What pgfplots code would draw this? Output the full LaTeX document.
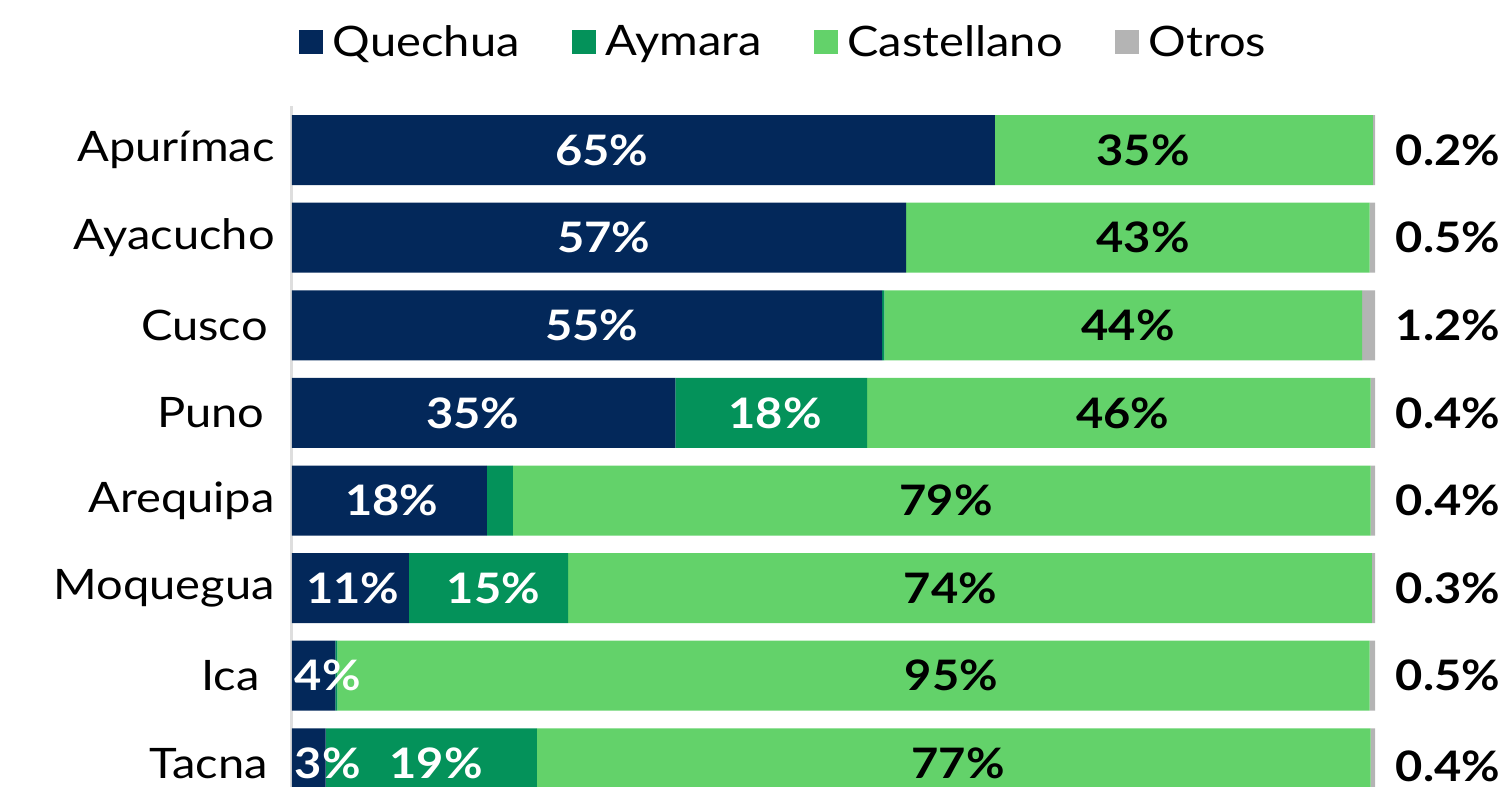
\documentclass[border=0pt]{standalone}
\usepackage{fontspec}
\setmainfont{Lato}[FakeStretch=1.12]
\usepackage{pgfplots}
\pgfplotsset{compat=1.18}
\definecolor{quech}{HTML}{03285A}
\definecolor{ayma}{HTML}{04925A}
\definecolor{cast}{HTML}{63D26A}
\definecolor{otros}{HTML}{B4B4B4}
\newcommand\fs{\fontsize{21bp}{25bp}\selectfont}
\pgfplotsset{sqleg/.style={legend image code/.code={\fill[#1] (0bp,-5.75bp) rectangle (11.5bp,5.75bp);}}}
\tikzset{wl/.style={font=\fs\bfseries, text=white, inner sep=0pt},
         bl/.style={font=\fs\bfseries, text=black, inner sep=0pt},
         ol/.style={font=\fs\bfseries, text=black, inner sep=0pt, anchor=east}}
% value labels, drawn once the bars are on the page
\newcommand\barlabels{%
\node[wl] at (axis cs:28.6,0) {65\%};
\node[bl] at (axis cs:78.6,0) {35\%};
\node[wl] at (axis cs:28.8,1) {57\%};
\node[bl] at (axis cs:78.6,1) {43\%};
\node[wl] at (axis cs:27.7,2) {55\%};
\node[bl] at (axis cs:77.2,2) {44\%};
\node[wl] at (axis cs:16.7,3) {35\%};
\node[wl] at (axis cs:44.6,3) {18\%};
\node[bl] at (axis cs:76.7,3) {46\%};
\node[wl] at (axis cs:9.2,4) {18\%};
\node[bl] at (axis cs:60.4,4) {79\%};
\node[wl] at (axis cs:5.6,5) {11\%};
\node[wl] at (axis cs:18.6,5) {15\%};
\node[bl] at (axis cs:60.8,5) {74\%};
\node[wl] at (axis cs:3.3,6) {4\%};
\node[bl] at (axis cs:60.9,6) {95\%};
\node[wl] at (axis cs:3.3,7) {3\%};
\node[wl] at (axis cs:13.3,7) {19\%};
\node[bl] at (axis cs:61.5,7) {77\%};
\node[ol] at (axis cs:111.6,0) {0.2\%};
\node[ol] at (axis cs:111.6,1) {0.5\%};
\node[ol] at (axis cs:111.6,2) {1.2\%};
\node[ol] at (axis cs:111.6,3) {0.4\%};
\node[ol] at (axis cs:111.6,4) {0.4\%};
\node[ol] at (axis cs:111.6,5) {0.3\%};
\node[ol] at (axis cs:111.6,6) {0.5\%};
\node[ol] at (axis cs:111.6,7.03) {0.4\%};}
\begin{document}
\begin{tikzpicture}
\useasboundingbox (-146bp,0) rectangle (604.5bp,393.5bp);
\begin{axis}[
    at={(0,0)}, anchor=south west,
    scale only axis, width=541.5bp, height=340.35bp,
    xbar stacked, bar width=35bp,
    xmin=0, xmax=100, ymin=-0.5, ymax=7.27,
    y dir=reverse, clip=false,
    axis x line=none, axis y line*=left,
    y axis line style={draw=black!13, line width=1.5bp},
    xtick=\empty, major tick length=0pt,
    ytick={0,...,7},
    yticklabels={Apurímac,Ayacucho,Cusco\kern3.5bp,Puno\kern5bp,Arequipa,Moquegua,Ica\kern7.5bp,Tacna\kern3.5bp},
    yticklabel style={font=\fs, inner sep=0pt, xshift=-8.5bp},
    legend columns=4,
    legend style={draw=none, fill=none, font=\fs, at={(0.453,1.094)}, anchor=center,
        nodes={inner sep=0pt},
        /tikz/every odd column/.append style={column sep=5bp},
        /tikz/every even column/.append style={column sep=26bp}},
    legend cell align=left,
    after end axis/.code={\barlabels},
]
\addplot[forget plot, fill=quech, draw=none] coordinates {(64.9,0)(56.7,1)(54.5,2)(35.4,3)(18.0,4)(10.8,5)(4.0,6)(3.1,7)};
\addplot[forget plot, fill=ayma, draw=none] coordinates {(0,0)(0,1)(0.2,2)(17.7,3)(2.4,4)(14.7,5)(0.2,6)(19.5,7)};
\addplot[forget plot, fill=cast, draw=none] coordinates {(34.9,0)(42.8,1)(44.1,2)(46.5,3)(79.2,4)(74.2,5)(95.3,6)(77.0,7)};
\addplot[forget plot, fill=otros, draw=none] coordinates {(0.2,0)(0.5,1)(1.2,2)(0.4,3)(0.4,4)(0.3,5)(0.5,6)(0.4,7)};
\addlegendimage{sqleg=quech}\addlegendentry{Quechua}
\addlegendimage{sqleg=ayma}\addlegendentry{Aymara}
\addlegendimage{sqleg=cast}\addlegendentry{Castellano}
\addlegendimage{sqleg=otros}\addlegendentry{Otros}
\end{axis}
\end{tikzpicture}
\end{document}
